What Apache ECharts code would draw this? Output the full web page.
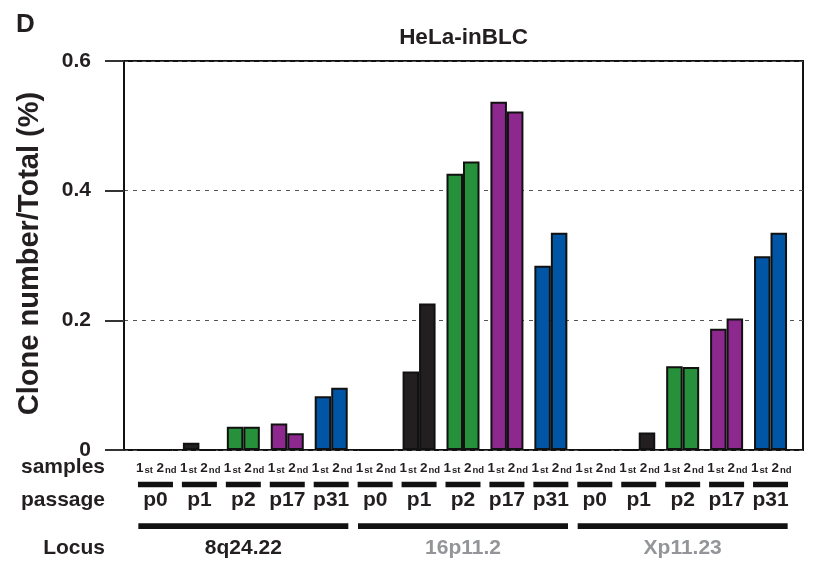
<!DOCTYPE html>
<html><head><meta charset="utf-8">
<script src="https://cdn.jsdelivr.net/npm/echarts@6/dist/echarts.min.js"></script>
<style>html,body{margin:0;padding:0;background:#fff}#c{width:817px;height:565px}</style>
</head><body><div id="c"></div>
<script>
const loci = ['8q24.22', '16p11.2', 'Xp11.23'];
const passages = ['p0', 'p1', 'p2', 'p17', 'p31'];
const sampleLabels = ['1st', '2nd'];
// values per locus x passage (15 groups), first and second sample
const firstSample  = [0, 0.011, 0.036, 0.041, 0.083,   0, 0.121, 0.426, 0.537, 0.284,   0, 0,     0.129, 0.187, 0.299];
const secondSample = [0, 0,     0.036, 0.026, 0.096,   0, 0.226, 0.445, 0.522, 0.335,   0, 0.027, 0.128, 0.203, 0.335];
const yMin = 0, yMax = 0.6, yStep = 0.2;
const passageColors = ['#231f20', '#231f20', '#27903a', '#8d288e', '#0055a5'];
const locusColors = ['#231f20', '#939598', '#939598'];
const FONT = "'Liberation Sans', Arial, Helvetica, sans-serif";
const INK = '#231f20';

const groupCats = [];
loci.forEach(l => passages.forEach(p => groupCats.push(l + '|' + p)));
const sampleCats = [];
groupCats.forEach(g => sampleLabels.forEach(s => sampleCats.push(g + '|' + s)));

const chart = echarts.init(document.getElementById('c'), null, {renderer: 'canvas'});
const hiddenCat = {axisLine: {show: false}, axisTick: {show: false}};

chart.setOption({
  animation: false,
  backgroundColor: '#fff',
  textStyle: {fontFamily: FONT},
  grid: [
    {left: 124, right: 14, top: 61, bottom: 115, show: true, borderColor: '#111', borderWidth: 2, backgroundColor: 'transparent'},
    {left: 133.5, width: 659, top: 61, bottom: 115}
  ],
  xAxis: [
    {gridIndex: 0, type: 'value', show: false, min: 0, max: 1},
    Object.assign({gridIndex: 1, type: 'category', position: 'bottom', data: groupCats, axisLabel: {show: false}}, hiddenCat),
    Object.assign({gridIndex: 1, type: 'category', position: 'bottom', data: sampleCats,
      axisLabel: {interval: 0, margin: 11.5,
        formatter: v => { const s = v.split('|')[2]; return '{n|' + s[0] + '}{s|' + s.slice(1) + '}'; },
        rich: {
          n: {fontSize: 13.5, fontWeight: 'bold', color: INK, fontFamily: FONT, verticalAlign: 'bottom', lineHeight: 14},
          s: {fontSize: 9.5, fontWeight: 'bold', color: INK, fontFamily: FONT, verticalAlign: 'bottom', lineHeight: 10, padding: [0, 0, 0, 1]}
        }}}, hiddenCat),
    Object.assign({gridIndex: 1, type: 'category', position: 'bottom', data: groupCats,
      axisLabel: {interval: 0, margin: 31.7,
        formatter: v => '{bar| }\n{p|' + v.split('|')[1] + '}',
        rich: {
          bar: {width: 35, height: 5.5, lineHeight: 5.5, fontSize: 1, backgroundColor: '#111', align: 'center'},
          p: {fontSize: 21, fontWeight: 'bold', color: INK, fontFamily: FONT, lineHeight: 26, align: 'center'}
        }}}, hiddenCat),
    Object.assign({gridIndex: 1, type: 'category', position: 'bottom', data: loci,
      axisLabel: {interval: 0, margin: 73.3,
        formatter: (v, i) => '{bar| }\n{t' + i + '|' + v + '}',
        rich: {
          bar: {width: 210, height: 5.7, lineHeight: 5.7, fontSize: 1, backgroundColor: '#111', align: 'center'},
          t0: {fontSize: 21, fontWeight: 'bold', color: locusColors[0], fontFamily: FONT, lineHeight: 38, align: 'center'},
          t1: {fontSize: 21, fontWeight: 'bold', color: locusColors[1], fontFamily: FONT, lineHeight: 38, align: 'center'},
          t2: {fontSize: 21, fontWeight: 'bold', color: locusColors[2], fontFamily: FONT, lineHeight: 38, align: 'center'}
        }}}, hiddenCat)
  ],
  yAxis: [
    {gridIndex: 0, type: 'value', min: yMin, max: yMax, interval: yStep,
      axisLine: {show: true, lineStyle: {color: '#111', width: 2}},
      axisTick: {show: true, length: 19, lineStyle: {color: '#333', width: 2}},
      axisLabel: {margin: 33, fontSize: 21, fontWeight: 'bold', color: INK, fontFamily: FONT,
        formatter: v => v === 0 ? '0' : v.toFixed(1)},
      splitLine: {show: true, lineStyle: {type: [4, 5], color: '#555', width: 1}}},
    {gridIndex: 1, type: 'value', min: yMin, max: yMax, show: false, splitLine: {show: false}}
  ],
  series: [
    {type: 'bar', name: '1st', xAxisIndex: 1, yAxisIndex: 1, data: firstSample, barWidth: 16.5, barGap: '0%',
      itemStyle: {color: p => passageColors[p.dataIndex % passages.length], borderColor: '#111', borderWidth: 2}},
    {type: 'bar', name: '2nd', xAxisIndex: 1, yAxisIndex: 1, data: secondSample, barWidth: 16.5, barGap: '0%',
      itemStyle: {color: p => passageColors[p.dataIndex % passages.length], borderColor: '#111', borderWidth: 2}}
  ],
  graphic: [
    {type: 'text', x: 16, y: 24.5, style: {text: 'D', fontSize: 26, fontWeight: 'bold', fontFamily: FONT, fill: INK, textAlign: 'left', textVerticalAlign: 'middle'}},
    {type: 'text', x: 463.5, y: 37.4, style: {text: 'HeLa-inBLC', fontSize: 22.5, fontWeight: 'bold', fontFamily: FONT, fill: INK, textAlign: 'center', textVerticalAlign: 'middle'}},
    {type: 'text', x: 29.5, y: 253.5, rotation: Math.PI / 2, style: {text: 'Clone number/Total (%)', fontSize: 29, fontWeight: 'bold', fontFamily: FONT, fill: INK, textAlign: 'center', textVerticalAlign: 'middle'}},
    {type: 'text', x: 105, y: 467.4, style: {text: 'samples', fontSize: 21, fontWeight: 'bold', fontFamily: FONT, fill: INK, textAlign: 'right', textVerticalAlign: 'middle'}},
    {type: 'text', x: 105, y: 500.6, style: {text: 'passage', fontSize: 21, fontWeight: 'bold', fontFamily: FONT, fill: INK, textAlign: 'right', textVerticalAlign: 'middle'}},
    {type: 'text', x: 105, y: 548, style: {text: 'Locus', fontSize: 21, fontWeight: 'bold', fontFamily: FONT, fill: INK, textAlign: 'right', textVerticalAlign: 'middle'}}
  ]
});
</script>
</body></html>
